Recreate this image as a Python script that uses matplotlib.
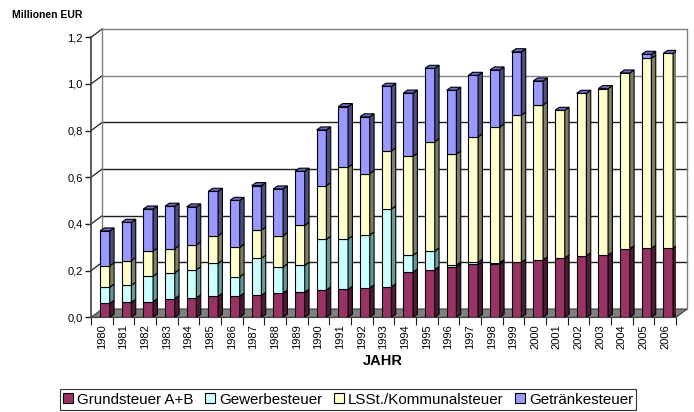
import numpy as np
import matplotlib
matplotlib.use("Agg")
import matplotlib.pyplot as plt
from matplotlib.patches import Polygon, Patch

plt.rcParams['font.family'] = ['Liberation Sans', 'DejaVu Sans']

years = [str(y) for y in range(1980, 2007)]
series = ["Grundsteuer A+B", "Gewerbesteuer", "LSSt./Kommunalsteuer", "Getränkesteuer"]

# Werte in Mio. EUR
grundsteuer = [0.060, 0.064, 0.067, 0.080, 0.083, 0.090, 0.091, 0.094, 0.104, 0.108,
               0.117, 0.120, 0.126, 0.131, 0.194, 0.204, 0.217, 0.227, 0.228, 0.236,
               0.246, 0.254, 0.264, 0.266, 0.294, 0.296, 0.297]
gewerbe = [0.069, 0.074, 0.109, 0.111, 0.121, 0.141, 0.083, 0.159, 0.112, 0.115,
           0.217, 0.216, 0.227, 0.333, 0.072, 0.080, 0.007, 0.009, 0.006, 0.000,
           0.000, 0.000, 0.000, 0.000, 0.000, 0.000, 0.000]
lsst = [0.092, 0.105, 0.108, 0.103, 0.106, 0.119, 0.126, 0.121, 0.134, 0.171,
        0.230, 0.307, 0.263, 0.249, 0.424, 0.469, 0.476, 0.537, 0.582, 0.630,
        0.664, 0.633, 0.696, 0.714, 0.753, 0.814, 0.834]
getraenke = [0.149, 0.164, 0.180, 0.182, 0.163, 0.190, 0.201, 0.190, 0.200, 0.232,
             0.239, 0.260, 0.243, 0.277, 0.271, 0.314, 0.273, 0.264, 0.244, 0.272,
             0.103, 0.000, 0.000, 0.000, 0.000, 0.017, 0.000]

front_cols = ["#993366", "#CCFFFF", "#FFFFCC", "#9999FF"]
side_cols = ["#4D1A33", "#669999", "#808066", "#4D4D80"]
top_col = "#6B6BC8"

fig = plt.figure(figsize=(6.94, 4.12), dpi=100)
ax = fig.add_axes([91 / 694, (412 - 317.3) / 412, 585 / 694, 280 / 412])
n = len(years)
ax.set_xlim(0, n)
ax.set_ylim(0, 1.2)

# Tiefe der Wand und der Säulen in Datenkoordinaten
wdx, wdy = 0.52, 0.0356
bdx, bdy = 0.20, 0.013
bx0, bw = 0.415, 0.45

# Boden
floor = Polygon([(0, 0), (n, 0), (n + wdx, wdy), (wdx, wdy)], closed=True,
                facecolor="#808080", edgecolor="#404040", lw=0.8, clip_on=False, zorder=1)
ax.add_patch(floor)

# Rückwand, Gitter
yt = np.arange(0, 1.21, 0.2)
for v in yt[1:]:
    c = "#808080" if v > 0.9 else "#202020"
    ax.plot([wdx, n + wdx], [v + wdy, v + wdy], color=c, lw=1.0, clip_on=False, zorder=1)
    ax.plot([0, wdx], [v, v + wdy], color="#202020", lw=0.9, clip_on=False, zorder=1)
ax.plot([wdx, wdx], [wdy, 1.2 + wdy], color="#808080", lw=1.0, clip_on=False, zorder=1)
ax.plot([n + wdx, n + wdx], [wdy, 1.2 + wdy], color="#808080", lw=1.0, clip_on=False, zorder=1)

# Säulen
data = [grundsteuer, gewerbe, lsst, getraenke]
for i in range(n):
    xl = i + bx0
    xr = xl + bw
    bottom = 0.0
    for k, vals in enumerate(data):
        h = vals[i]
        if h > 0:
            ax.bar(xl, h, width=bw, bottom=bottom, align="edge", color=front_cols[k],
                   edgecolor="black", lw=0.8, zorder=3)
            side = Polygon([(xr, bottom), (xr + bdx, bottom + bdy), (xr + bdx, bottom + h + bdy),
                            (xr, bottom + h)], closed=True, facecolor=side_cols[k],
                           edgecolor="black", lw=0.8, zorder=3)
            ax.add_patch(side)
        bottom += h
    top = Polygon([(xl, bottom), (xr, bottom), (xr + bdx, bottom + bdy), (xl + bdx, bottom + bdy)],
                  closed=True, facecolor=top_col, edgecolor="black", lw=0.8, zorder=3)
    ax.add_patch(top)

for s in ["top", "right"]:
    ax.spines[s].set_visible(False)
ax.spines["left"].set_color("#404040")
ax.spines["left"].set_linewidth(1.2)
ax.spines["bottom"].set_color("#404040")
ax.spines["bottom"].set_linewidth(0.8)

ax.set_yticks(yt)
ax.set_yticklabels([f"{v:.1f}".replace(".", ",") for v in yt], fontsize=8)
ax.tick_params(axis="y", length=4, width=1, color="#202020", pad=2)
ax.set_xticks(np.arange(0, n + 1))
ax.set_xticklabels([])
ax.tick_params(axis="x", length=6, width=0.8, color="#202020")
for i, y in enumerate(years):
    ax.text(i + 0.5, -0.03, y, rotation=90, ha="center", va="top", fontsize=8)

fig.text(383 / 694, 1 - 361 / 412, "JAHR", ha="center", va="center", fontsize=10.5, fontweight="bold")
fig.text(12 / 694, 1 - 15.5 / 412, "Millionen EUR", ha="left", va="center", fontsize=7.5, fontweight="bold")

handles = [Patch(facecolor=front_cols[k], edgecolor="black", lw=0.8) for k in range(4)]
leg = fig.legend(handles, series, loc="center", bbox_to_anchor=(348 / 694, 1 - 399.5 / 412),
                 ncol=4, fontsize=10.9, frameon=True, fancybox=False, handlelength=0.65,
                 handleheight=0.65, handletextpad=0.25, columnspacing=0.8, borderpad=0.2,
                 borderaxespad=0)
leg.get_frame().set_edgecolor("black")
leg.get_frame().set_linewidth(0.8)

fig.savefig("out.png", dpi=100)
